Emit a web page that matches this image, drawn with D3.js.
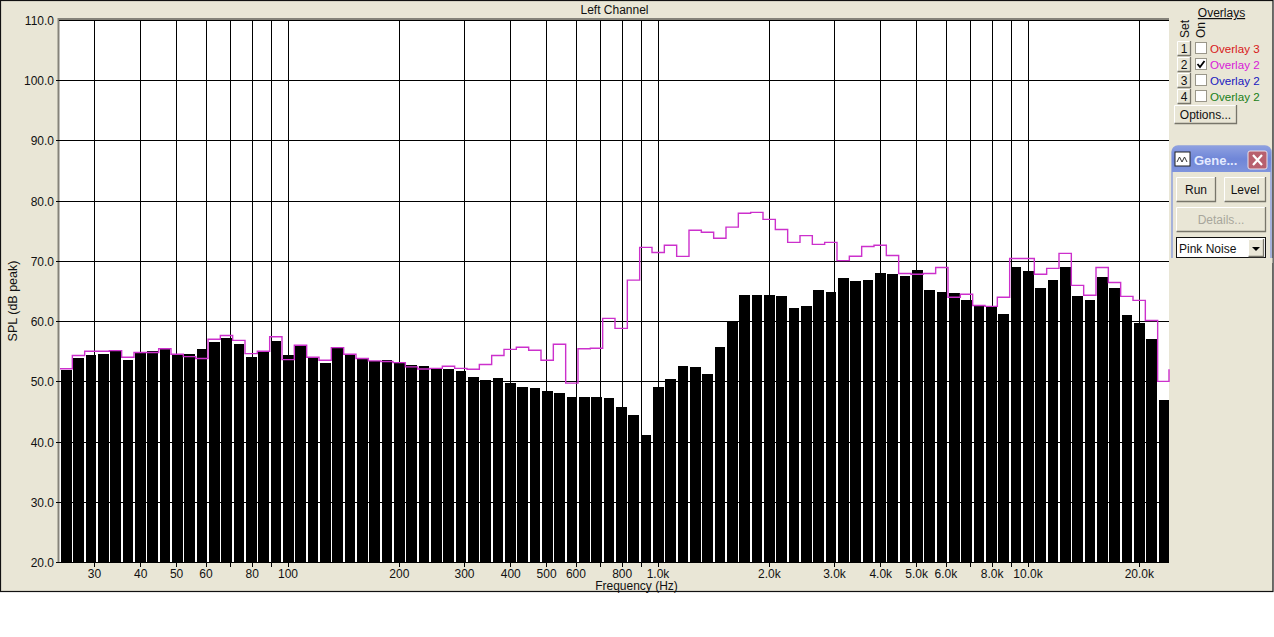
<!DOCTYPE html>
<html><head><meta charset="utf-8">
<script src="https://cdn.jsdelivr.net/npm/d3@7"></script>
<style>
html,body{margin:0;padding:0;background:#fff}
svg{display:block}
text{font-family:"Liberation Sans",Arial,sans-serif;font-size:12px;fill:#111}
</style></head><body><svg id="c" width="1274" height="637"></svg>
<script>
const barValues=[51.9,53.9,54.4,54.5,55.0,53.6,54.8,55.1,55.4,54.4,54.6,55.3,56.5,57.2,56.2,54.1,54.9,56.7,54.4,55.8,53.9,53.0,55.6,54.6,53.8,53.3,53.6,53.1,52.7,52.5,52.05,52.05,51.7,50.7,50.2,50.55,49.7,49.0,48.9,48.4,48.07,47.4,47.4,47.4,47.2,45.75,44.4,41.1,49.07,50.4,52.55,52.4,51.2,55.7,60.0,64.3,64.3,64.3,64.2,62.2,62.5,65.15,64.85,67.16,66.66,66.8,68.0,67.8,67.5,68.5,65.15,64.85,64.67,63.5,62.5,62.5,61.2,69.0,68.3,65.5,66.8,69.0,64.2,63.5,67.3,65.5,61.0,59.7,57.03,46.9];
const overlayValues=[52.1,54.3,55.0,55.0,55.1,54.0,54.8,54.8,55.4,54.5,54.1,53.8,57.0,57.6,56.8,54.6,55.0,57.4,53.6,56.0,54.0,53.5,55.6,54.5,53.8,53.4,53.3,53.1,52.4,52.05,52.15,52.5,52.15,52.0,52.8,54.3,55.3,55.65,55.15,53.5,56.15,49.7,55.4,55.5,60.45,58.8,66.8,72.25,71.4,72.6,70.75,75.1,74.75,73.75,75.6,77.9,78.05,76.9,75.2,73.08,74.2,72.75,73.08,70.04,70.76,72.4,72.6,70.9,67.9,67.77,67.9,68.9,63.95,64.45,62.6,62.45,63.95,70.4,70.4,67.77,68.75,71.25,65.94,64.3,68.9,66.4,64.1,63.45,60.1,50,52];
const yTicks=[20,30,40,50,60,70,80,90,100,110];
const gridFreqs=[30,40,50,60,70,80,90,100,200,300,400,500,600,700,800,900,1000,2000,3000,4000,5000,6000,7000,8000,9000,10000,20000];
const labelledFreqs=[[30,"30"],[40,"40"],[50,"50"],[60,"60"],[80,"80"],[100,"100"],[200,"200"],[300,"300"],[400,"400"],[500,"500"],[600,"600"],[800,"800"],[1000,"1.0k"],[2000,"2.0k"],[3000,"3.0k"],[4000,"4.0k"],[5000,"5.0k"],[6000,"6.0k"],[8000,"8.0k"],[10000,"10.0k"],[20000,"20.0k"]];
const overlayRows=[["1","Overlay 3","#d81818",false],["2","Overlay 2","#d818d8",true],["3","Overlay 2","#1818c0",false],["4","Overlay 2","#188018",false]];

const svg=d3.select("#c");
const face="#e9e6d6";
const defs=svg.append("defs");
const tg=defs.append("linearGradient").attr("id","title").attr("x1",0).attr("y1",0).attr("x2",0).attr("y2",1);
tg.append("stop").attr("offset",0).attr("stop-color","#8ea0e0");
tg.append("stop").attr("offset",.5).attr("stop-color","#6f86d8");
tg.append("stop").attr("offset",1).attr("stop-color","#7f94dc");
// window
svg.append("rect").attr("x",.5).attr("y",.5).attr("width",1272.5).attr("height",591).attr("fill",face).attr("stroke","#111").attr("stroke-width",1.2);
const L=59,R=1169,T=20,B=562;
const x=d3.scaleLog().domain([100,10000]).range([288,1028]);
const y=d3.scaleLinear().domain([20,110]).range([B,T]);
const bin=d3.scaleLinear().domain([0,90]).range([60,1170]);
const gridX=d=>Math.floor(x(d)+.2)+.5;
svg.append("rect").attr("x",L).attr("y",T).attr("width",R-L).attr("height",B-T).attr("fill","#fff");
svg.append("path").attr("d",`M${L-.5},${B}V${T-1}H${R}`).attr("fill","none").attr("stroke","#85837a").attr("stroke-width",2);
const g=svg.append("g").attr("shape-rendering","crispEdges");
g.selectAll("line.h").data(yTicks).join("line").attr("class","h").attr("x1",d=>d==110?L:56).attr("x2",R).attr("y1",d=>Math.round(y(d))+.5).attr("y2",d=>Math.round(y(d))+.5).attr("stroke","#000");
g.selectAll("line.v").data(gridFreqs).join("line").attr("class","v").attr("y1",T).attr("y2",B+5).attr("x1",gridX).attr("x2",gridX).attr("stroke","#000");
g.selectAll("rect.b").data(barValues).join("rect").attr("class","b")
 .attr("x",(d,i)=>Math.round(bin(i)+1)).attr("width",(d,i)=>Math.round(bin(i)+11.6)-Math.round(bin(i)+1))
 .attr("y",d=>y(d)).attr("height",d=>y(20)-y(d)).attr("fill","#000");
const line=d3.line().x((d,i)=>Math.min(bin(i),1169)).y(d=>y(d)).curve(d3.curveStepAfter);
svg.append("path").attr("d",line(overlayValues)).attr("fill","none").attr("stroke","#cc30cc").attr("stroke-width",1.4);
// axis text
svg.selectAll("text.yt").data(yTicks).join("text").attr("class","yt").attr("x",54).attr("y",d=>y(d)+5).attr("text-anchor","end").text(d=>d.toFixed(1));
svg.selectAll("text.xt").data(labelledFreqs).join("text").attr("class","xt").attr("x",d=>x(d[0])).attr("y",578).attr("text-anchor","middle").text(d=>d[1]);
svg.append("text").attr("x",614.5).attr("y",13.5).attr("text-anchor","middle").text("Left Channel");
svg.append("text").attr("x",636.5).attr("y",590).attr("text-anchor","middle").text("Frequency (Hz)");
svg.append("text").attr("transform","translate(17,301) rotate(-90)").attr("text-anchor","middle").style("font-size","12.5px").text("SPL (dB peak)");
// overlay panel
svg.append("text").attr("x",1221.5).attr("y",17).attr("text-anchor","middle").attr("text-decoration","underline").text("Overlays");
svg.append("text").attr("transform","translate(1189,38) rotate(-90)").text("Set");
svg.append("text").attr("transform","translate(1205,38) rotate(-90)").text("On");
function btn(bx,by,w,h,label,col){
  const s=svg.append("g");
  s.append("rect").attr("x",bx).attr("y",by).attr("width",w).attr("height",h).attr("fill",face).attr("shape-rendering","crispEdges");
  s.append("path").attr("d",`M${bx+.5},${by+h}V${by+.5}H${bx+w}`).attr("fill","none").attr("stroke","#fff");
  s.append("path").attr("d",`M${bx+.5},${by+h-.5}H${bx+w-.5}V${by}`).attr("fill","none").attr("stroke","#77756a").attr("stroke-width",1.3);
  s.append("text").attr("x",bx+w/2).attr("y",by+h/2+4.3).attr("text-anchor","middle").style("fill",col||"#111").text(label);
}
overlayRows.forEach((r,i)=>{
  const ry=41+i*16;
  btn(1177,ry,14,15,r[0]);
  svg.append("rect").attr("x",1195.5).attr("y",ry+1.5).attr("width",11).attr("height",11).attr("fill","#fff").attr("stroke","#9a978a").attr("shape-rendering","crispEdges");
  if(r[3]) svg.append("path").attr("d",`M${1197.5},${ry+7}l2.5,3l4.5,-6`).attr("fill","none").attr("stroke","#000").attr("stroke-width",1.8);
  svg.append("text").attr("x",1210).attr("y",ry+12).style("fill",r[2]).style("font-size","11.6px").text(r[1]);
});
btn(1174,105,63,19,"Options...");
// generator window
svg.append("path").attr("d","M1172,258V152a6,6 0 0 1 6,-6H1265a6,6 0 0 1 6,6V258").attr("fill",face).attr("stroke","#8fa0dc").attr("stroke-width",1.5);
svg.append("path").attr("d","M1172,172V152a6,6 0 0 1 6,-6H1265a6,6 0 0 1 6,6V172Z").attr("fill","url(#title)");
svg.append("rect").attr("x",1175).attr("y",152).attr("width",15).attr("height",14).attr("fill","#fff").attr("stroke","#222");
svg.append("path").attr("d","M1177,162l2.5,-5l2.5,5l2.5,-5l2.5,5").attr("fill","none").attr("stroke","#333");
svg.append("text").attr("x",1194).attr("y",165).style("fill","#e4eaff").style("font-weight","bold").style("font-size","13px").text("Gene...");
svg.append("rect").attr("x",1248).attr("y",151).attr("width",19).attr("height",18).attr("rx",2).attr("fill","#b8606e").attr("stroke","#e8e0e8");
svg.append("path").attr("d","M1253,155l9,10M1262,155l-9,10").attr("stroke","#fff").attr("stroke-width",2.2);
btn(1176,177,40,25,"Run");
btn(1224,177,42,25,"Level");
btn(1176,207,90,25,"Details...","#a8a69c");
svg.append("rect").attr("x",1176.5).attr("y",237.5).attr("width",89).attr("height",20).attr("fill","#fff").attr("stroke","#111");
svg.append("text").attr("x",1179).attr("y",253).text("Pink Noise");
btn(1248,239,16,18,"");
svg.append("path").attr("d","M1252,247h8l-4,4z").attr("fill","#000");
svg.append("rect").attr("x",1170).attr("y",258).attr("width",102.5).attr("height",5).attr("fill",face);
</script></body></html>
